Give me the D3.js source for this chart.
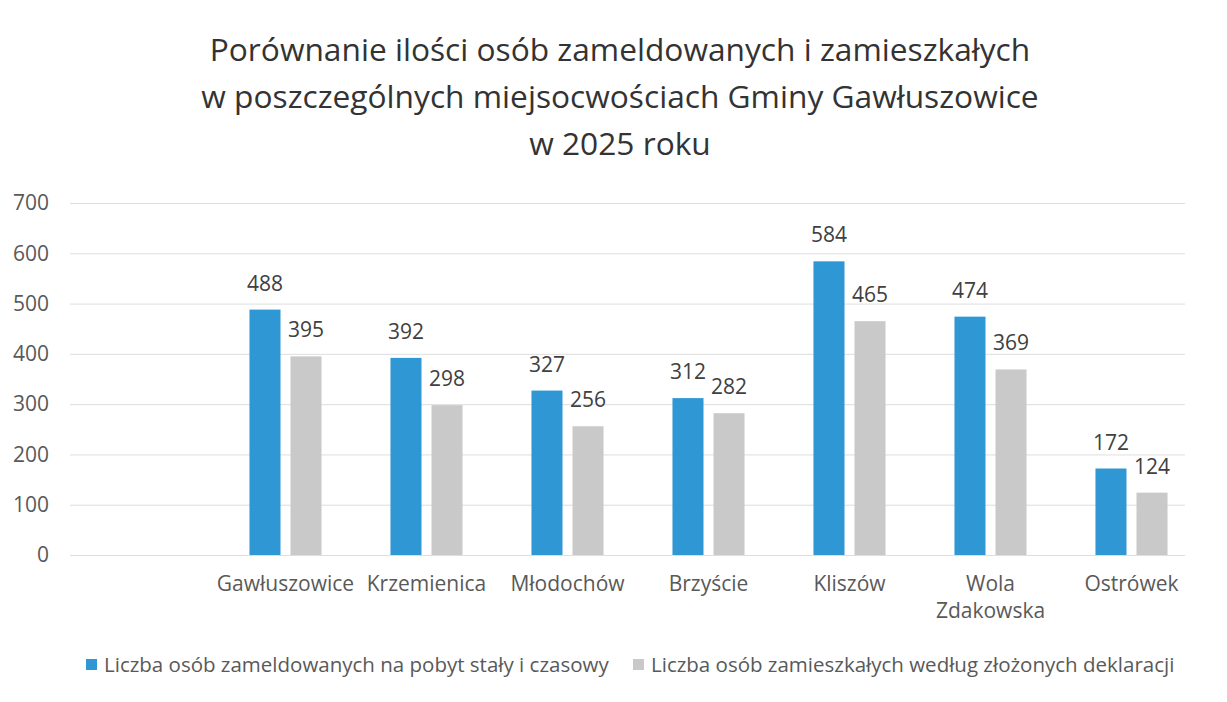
<!DOCTYPE html>
<html>
<head>
<meta charset="utf-8">
<script src="https://cdn.jsdelivr.net/npm/d3@7"></script>
<style>
	body { margin: 0; background: #fff; }
	svg { display: block; font-family: "Open Sans", "Noto Sans", sans-serif; }
</style>
</head>
<body>
<svg id="chart" width="1227" height="702"></svg>
<script>
// Data
var titleLines = [
	"Porównanie ilości osób zameldowanych i zamieszkałych",
	"w poszczególnych miejsocwościach Gminy Gawłuszowice",
	"w 2025 roku"
];
var categories = ["", "Gawłuszowice", "Krzemienica", "Młodochów", "Brzyście", "Kliszów", "Wola Zdakowska", "Ostrówek"];
var seriesNames = [
	"Liczba osób zameldowanych na pobyt stały i czasowy",
	"Liczba osób zamieszkałych według złożonych deklaracji"
];
var zameldowani = [null, 488, 392, 327, 312, 584, 474, 172];
var zamieszkali = [null, 395, 298, 256, 282, 465, 369, 124];
var yTicks = [0, 100, 200, 300, 400, 500, 600, 700];
var colors = ["#2f97d3", "#c9c9c9"];

var svg = d3.select("#chart"),
	gridLeft = 70,
	gridRight = 1185,
	plotLeft = 74,
	plotRight = 1202,
	plotTop = 203,
	plotBottom = 555;

// Title
svg.append("g")
	.selectAll("text")
	.data(titleLines)
	.join("text")
	.attr("x", 620)
	.attr("y", function (d, i) { return 61 + i * 47; })
	.attr("text-anchor", "middle")
	.attr("font-size", 31.7)
	.attr("fill", "#333")
	.text(function (d) { return d; });

// Scales
var x = d3.scaleBand()
	.domain(categories)
	.range([plotLeft, plotRight])
	.paddingInner(0)
	.paddingOuter(0);

var xs = d3.scaleBand()
	.domain([0, 1])
	.range([0, x.bandwidth()])
	.paddingInner(0.244)
	.paddingOuter(0.84);

var y = d3.scaleLinear()
	.domain([0, 700])
	.range([plotBottom, plotTop]);

// Grid
svg.append("g")
	.selectAll("line")
	.data(yTicks)
	.join("line")
	.attr("x1", gridLeft)
	.attr("x2", gridRight)
	.attr("y1", function (d) { return y(d) + 0.5; })
	.attr("y2", function (d) { return y(d) + 0.5; })
	.attr("stroke", "#dedede")
	.attr("stroke-width", 1);

// Y axis
var yAxis = svg.append("g")
	.attr("transform", "translate(" + (gridLeft - 21) + ",0)")
	.call(d3.axisLeft(y).tickValues(yTicks).tickSize(0).tickPadding(0));
yAxis.select(".domain").remove();
yAxis.selectAll("text")
	.attr("font-size", 21)
	.attr("font-family", "\"Open Sans\", \"Noto Sans\", sans-serif")
	.attr("fill", "#595959");

// X axis
var xAxis = svg.append("g")
	.attr("transform", "translate(0," + plotBottom + ")")
	.call(d3.axisBottom(x).tickSize(0).tickPadding(21));
xAxis.select(".domain").remove();
xAxis.selectAll("text")
	.attr("font-size", 21)
	.attr("font-family", "\"Open Sans\", \"Noto Sans\", sans-serif")
	.attr("fill", "#595959")
	.each(function (d) {
		var t = d3.select(this);
		if (this.getComputedTextLength() > x.bandwidth()) {
			var words = d.split(" ");
			t.text(null);
			words.forEach(function (w, i) {
				t.append("tspan")
					.attr("x", 0)
					.attr("dy", i == 0 ? "0.71em" : "1.3em")
					.text(w);
			});
			t.attr("dy", null);
		}
	});

// Bars
var series = [zameldowani, zamieszkali];
var groups = svg.append("g")
	.selectAll("g")
	.data(series)
	.join("g")
	.attr("fill", function (d, i) { return colors[i]; });

groups.each(function (vals, si) {
	var g = d3.select(this);
	var rows = categories.map(function (c, i) { return { c: c, v: vals[i] }; })
		.filter(function (r) { return r.v != null; });

	g.selectAll("rect")
		.data(rows)
		.join("rect")
		.attr("x", function (r) { return x(r.c) + xs(si); })
		.attr("y", function (r) { return y(r.v); })
		.attr("width", xs.bandwidth())
		.attr("height", function (r) { return y(0) - y(r.v); });

	g.selectAll("text")
		.data(rows)
		.join("text")
		.attr("x", function (r) { return x(r.c) + xs(si) + xs.bandwidth() / 2; })
		.attr("y", function (r) { return y(r.v) - 19; })
		.attr("text-anchor", "middle")
		.attr("font-size", 21)
		.attr("fill", "#404040")
		.text(function (r) { return r.v; });
});

// Legend
var legendX = [86, 633];
var legend = svg.append("g")
	.selectAll("g")
	.data(seriesNames)
	.join("g")
	.attr("transform", function (d, i) { return "translate(" + legendX[i] + ",665)"; });

legend.append("rect")
	.attr("x", 0)
	.attr("y", -6)
	.attr("width", 11)
	.attr("height", 11)
	.attr("fill", function (d, i) { return colors[i]; });

legend.append("text")
	.attr("x", 18)
	.attr("y", 0)
	.attr("dy", "0.32em")
	.attr("font-size", 20.5)
	.attr("fill", "#595959")
	.text(function (d) { return d; });
</script>
</body>
</html>
